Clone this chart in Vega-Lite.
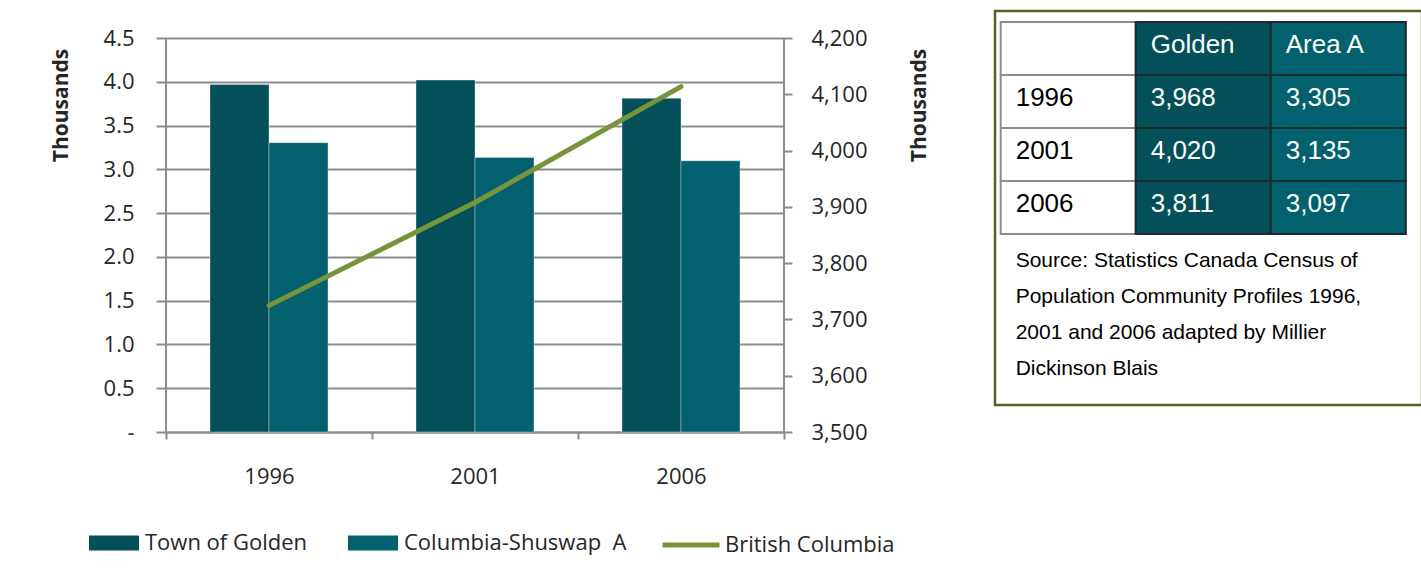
{
  "$schema": "https://vega.github.io/schema/vega-lite/v6.json",
  "background": "#ffffff",
  "padding": {"left": 50, "top": 9, "right": 0, "bottom": 0},
  "spacing": 63,
  "config": {
    "font": "Open Sans",
    "axis": {"labelFont": "Open Sans", "titleFont": "Open Sans", "labelColor": "#262626", "titleColor": "#262626"},
    "legend": {"labelFont": "Open Sans", "labelColor": "#262626"}
  },
  "datasets": {
    "pop": [
      {"year": "1996", "series": "Town of Golden", "col": "Golden", "population": 3968},
      {"year": "1996", "series": "Columbia-Shuswap\u00a0 A", "col": "Area A", "population": 3305},
      {"year": "2001", "series": "Town of Golden", "col": "Golden", "population": 4020},
      {"year": "2001", "series": "Columbia-Shuswap\u00a0 A", "col": "Area A", "population": 3135},
      {"year": "2006", "series": "Town of Golden", "col": "Golden", "population": 3811},
      {"year": "2006", "series": "Columbia-Shuswap\u00a0 A", "col": "Area A", "population": 3097}
    ],
    "bc": [
      {"year": "1996", "series": "British Columbia", "population": 3724500},
      {"year": "2001", "series": "British Columbia", "population": 3907738},
      {"year": "2006", "series": "British Columbia", "population": 4113487}
    ],
    "cells": [
      {"row": "Header", "col": "Year", "label": ""},
      {"row": "Header", "col": "Golden", "label": "Golden"},
      {"row": "Header", "col": "Area A", "label": "Area A"},
      {"row": "1996", "col": "Year", "label": "1996"},
      {"row": "2001", "col": "Year", "label": "2001"},
      {"row": "2006", "col": "Year", "label": "2006"}
    ],
    "note": [
      {"row": "Source", "col": "Year", "text": "Source: Statistics Canada Census of\nPopulation Community Profiles 1996,\n2001 and 2006 adapted by Millier\nDickinson Blais"}
    ]
  },
  "hconcat": [
    {
      "width": 618,
      "height": 421,
      "view": {"stroke": null},
      "layer": [
        {
          "data": {"name": "pop"},
          "mark": {"type": "bar", "stroke": "#ffffff", "strokeOpacity": 0.35, "strokeWidth": 1},
          "encoding": {
            "x": {
              "field": "year", "type": "nominal",
              "scale": {"paddingInner": 0, "paddingOuter": 0},
              "axis": {
                "title": null, "labelAngle": 0, "tickBand": "extent",
                "labelFontSize": 22, "labelPadding": 27, "tickSize": 7,
                "tickColor": "#8c8c8c", "tickWidth": 2,
                "domainColor": "#8c8c8c", "domainWidth": 2
              }
            },
            "xOffset": {
              "field": "series", "type": "nominal",
              "scale": {"domain": ["Town of Golden", "Columbia-Shuswap\u00a0 A"], "paddingInner": 0, "paddingOuter": 0.7458}
            },
            "y": {
              "field": "population", "type": "quantitative",
              "scale": {"domain": [0, 4808.4], "nice": false},
              "axis": {
                "values": [0, 500, 1000, 1500, 2000, 2500, 3000, 3500, 4000, 4500],
                "labelExpr": "datum.value === 0 ? '-\u00a0\u00a0' : format(datum.value / 1000, '.1f')",
                "title": "Thousands", "titleFontSize": 21, "titleFontWeight": "bold", "titlePadding": 32,
                "titleAngle": 270, "titleAlign": "center", "titleY": 94,
                "labelFontSize": 22, "labelPadding": 22, "tickSize": 10,
                "tickColor": "#8c8c8c", "tickWidth": 2,
                "domain": false,
                "grid": true, "gridColor": "#8c8c8c", "gridWidth": 2
              }
            },
            "color": {
              "field": "series", "type": "nominal",
              "scale": {"domain": ["Town of Golden", "Columbia-Shuswap\u00a0 A"], "range": ["#034f5a", "#03606e"]},
              "legend": {
                "orient": "none", "legendX": -77, "legendY": 507, "direction": "horizontal",
                "title": null, "padding": 0, "labelLimit": 0,
                "symbolType": "M-1,-0.3H1V0.3H-1Z", "symbolSize": 2500, "symbolStrokeWidth": 0, "symbolOpacity": 1,
                "labelFontSize": 22, "labelOffset": 6, "columnPadding": 40
              }
            }
          }
        },
        {
          "data": {"values": [{}]},
          "mark": {"type": "rule", "color": "#8c8c8c", "strokeWidth": 2},
          "encoding": {
            "x": {"datum": "1996", "type": "nominal", "bandPosition": 0},
            "y": {"datum": 0, "type": "quantitative", "scale": {"domain": [0, 4808.4], "nice": false}, "axis": null},
            "y2": {"datum": 4500}
          }
        },
        {
          "data": {"values": [{}]},
          "mark": {"type": "rule", "color": "#8c8c8c", "strokeWidth": 2},
          "encoding": {
            "x": {"datum": "2006", "type": "nominal", "bandPosition": 1},
            "y": {"datum": 0, "type": "quantitative", "scale": {"domain": [0, 4808.4], "nice": false}, "axis": null},
            "y2": {"datum": 4500}
          }
        },
        {
          "data": {"name": "bc"},
          "mark": {"type": "line", "strokeWidth": 5, "strokeCap": "round"},
          "encoding": {
            "x": {"field": "year", "type": "nominal"},
            "y": {
              "field": "population", "type": "quantitative",
              "scale": {"domain": [3500000, 4247970], "nice": false},
              "axis": {
                "orient": "right",
                "values": [3500000, 3600000, 3700000, 3800000, 3900000, 4000000, 4100000, 4200000],
                "labelExpr": "format(datum.value / 1000, ',')",
                "title": "Thousands", "titleFontSize": 21, "titleFontWeight": "bold", "titlePadding": 62,
                "titleAngle": 270, "titleAlign": "center", "titleY": 94,
                "labelFontSize": 22, "labelPadding": 19, "tickSize": 8,
                "tickColor": "#8c8c8c", "tickWidth": 2,
                "domain": false,
                "grid": false
              }
            },
            "stroke": {
              "field": "series", "type": "nominal",
              "scale": {"domain": ["British Columbia"], "range": ["#77933c"]},
              "legend": {
                "orient": "none", "legendX": 494, "legendY": 503, "direction": "horizontal",
                "title": null, "padding": 0, "labelLimit": 0,
                "symbolType": "stroke", "symbolSize": 3249, "symbolStrokeWidth": 5,
                "labelFontSize": 22, "labelOffset": 3
              }
            }
          }
        }
      ],
      "resolve": {"scale": {"y": "independent"}}
    },
    {
      "width": 427,
      "height": 394,
      "view": {"stroke": "#4f6228", "strokeWidth": 2.5, "fill": "#ffffff"},
      "encoding": {
        "x": {
          "field": "col", "type": "nominal",
          "scale": {"domain": ["Year", "Golden", "Area A"], "paddingInner": 0, "paddingOuter": 0.081, "align": 0.26},
          "axis": null
        }
      },
      "layer": [
        {
          "data": {"name": "cells"},
          "mark": {"type": "rect", "strokeWidth": 2},
          "encoding": {
            "y": {"field": "row", "type": "nominal", "scale": {"domain": ["Header", "1996", "2001", "2006", "Source", "Note", "End"], "paddingInner": 0, "paddingOuter": 0.217, "align": 0.478}, "axis": null},
            "fill": {"field": "col", "type": "nominal", "scale": {"domain": ["Year", "Golden", "Area A"], "range": ["#ffffff", "#034f5a", "#03606e"]}, "legend": null},
            "stroke": {"condition": {"test": "datum.col === 'Year'", "value": "#8c8c8c"}, "value": "#1c2a2c"}
          }
        },
        {
          "data": {"name": "pop"},
          "mark": {"type": "rect", "strokeWidth": 2, "stroke": "#1c2a2c"},
          "encoding": {
            "y": {"field": "year", "type": "nominal"},
            "fill": {"field": "col", "type": "nominal", "legend": null}
          }
        },
        {
          "data": {"name": "cells"},
          "mark": {"type": "text", "font": "Liberation Sans", "fontSize": 26, "align": "left", "baseline": "alphabetic", "dx": 15, "dy": 5},
          "encoding": {
            "y": {"field": "row", "type": "nominal"},
            "x": {"field": "col", "type": "nominal", "bandPosition": 0},
            "text": {"field": "label"},
            "color": {"condition": {"test": "datum.col === 'Year'", "value": "#000000"}, "value": "#ffffff"}
          }
        },
        {
          "data": {"name": "pop"},
          "mark": {"type": "text", "font": "Liberation Sans", "fontSize": 26, "align": "left", "baseline": "alphabetic", "dx": 15, "dy": 5, "color": "#ffffff"},
          "encoding": {
            "y": {"field": "year", "type": "nominal"},
            "x": {"field": "col", "type": "nominal", "bandPosition": 0},
            "text": {"field": "population", "type": "quantitative", "format": ","}
          }
        },
        {
          "data": {"name": "note"},
          "mark": {"type": "text", "font": "Liberation Sans", "fontSize": 21, "align": "left", "baseline": "alphabetic", "lineBreak": "\n", "lineHeight": 36, "dx": 15, "dy": 33, "color": "#000000"},
          "encoding": {
            "y": {"field": "row", "type": "nominal", "bandPosition": 0},
            "x": {"field": "col", "type": "nominal", "bandPosition": 0},
            "text": {"field": "text"}
          }
        }
      ]
    }
  ]
}
